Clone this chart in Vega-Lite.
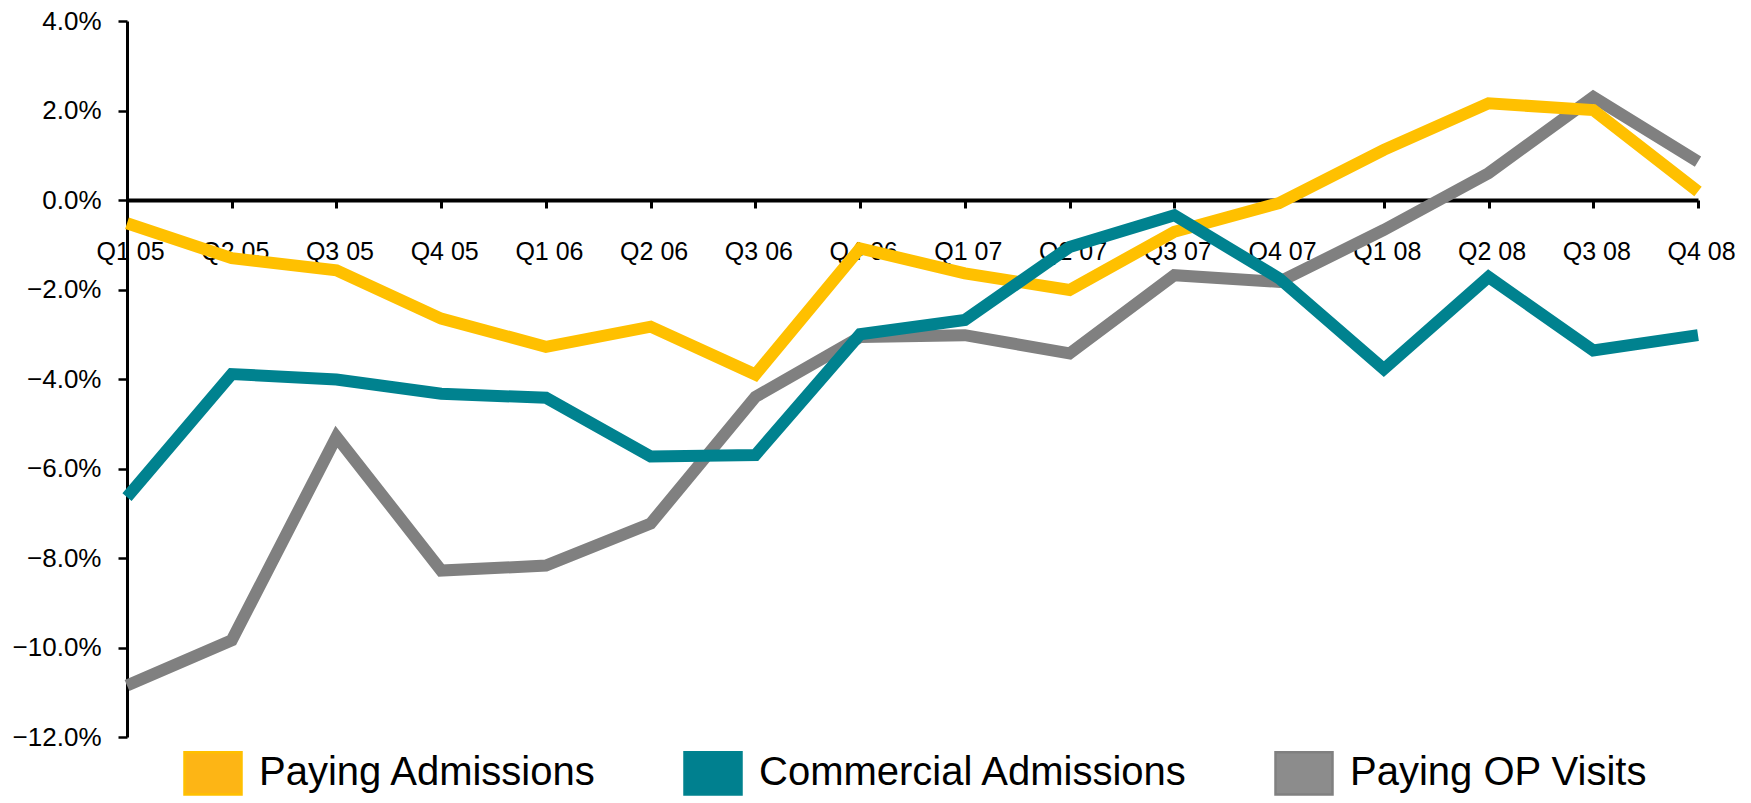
{
  "$schema": "https://vega.github.io/schema/vega-lite/v6.json",
  "width": 1571,
  "height": 716,
  "autosize": {"type": "none"},
  "padding": {"left": 127, "top": 21, "right": 53, "bottom": 66},
  "background": "white",
  "config": {
    "view": {"stroke": null},
    "font": "Liberation Sans"
  },
  "data": {
    "values": [
      {"q": "Q1 05", "series": "Paying Admissions", "v": -0.52},
      {"q": "Q2 05", "series": "Paying Admissions", "v": -1.30},
      {"q": "Q3 05", "series": "Paying Admissions", "v": -1.57},
      {"q": "Q4 05", "series": "Paying Admissions", "v": -2.65},
      {"q": "Q1 06", "series": "Paying Admissions", "v": -3.28},
      {"q": "Q2 06", "series": "Paying Admissions", "v": -2.83},
      {"q": "Q3 06", "series": "Paying Admissions", "v": -3.90},
      {"q": "Q4 06", "series": "Paying Admissions", "v": -1.08},
      {"q": "Q1 07", "series": "Paying Admissions", "v": -1.64},
      {"q": "Q2 07", "series": "Paying Admissions", "v": -2.01},
      {"q": "Q3 07", "series": "Paying Admissions", "v": -0.71},
      {"q": "Q4 07", "series": "Paying Admissions", "v": -0.07},
      {"q": "Q1 08", "series": "Paying Admissions", "v": 1.12},
      {"q": "Q2 08", "series": "Paying Admissions", "v": 2.16},
      {"q": "Q3 08", "series": "Paying Admissions", "v": 2.01},
      {"q": "Q4 08", "series": "Paying Admissions", "v": 0.19},
      {"q": "Q1 05", "series": "Commercial Admissions", "v": -6.64},
      {"q": "Q2 05", "series": "Commercial Admissions", "v": -3.89},
      {"q": "Q3 05", "series": "Commercial Admissions", "v": -4.01},
      {"q": "Q4 05", "series": "Commercial Admissions", "v": -4.33},
      {"q": "Q1 06", "series": "Commercial Admissions", "v": -4.42},
      {"q": "Q2 06", "series": "Commercial Admissions", "v": -5.73},
      {"q": "Q3 06", "series": "Commercial Admissions", "v": -5.70},
      {"q": "Q4 06", "series": "Commercial Admissions", "v": -3.00},
      {"q": "Q1 07", "series": "Commercial Admissions", "v": -2.68},
      {"q": "Q2 07", "series": "Commercial Admissions", "v": -1.05},
      {"q": "Q3 07", "series": "Commercial Admissions", "v": -0.34},
      {"q": "Q4 07", "series": "Commercial Admissions", "v": -1.75},
      {"q": "Q1 08", "series": "Commercial Admissions", "v": -3.78},
      {"q": "Q2 08", "series": "Commercial Admissions", "v": -1.72},
      {"q": "Q3 08", "series": "Commercial Admissions", "v": -3.36},
      {"q": "Q4 08", "series": "Commercial Admissions", "v": -3.02},
      {"q": "Q1 05", "series": "Paying OP Visits", "v": -10.85},
      {"q": "Q2 05", "series": "Paying OP Visits", "v": -9.84},
      {"q": "Q3 05", "series": "Paying OP Visits", "v": -5.29},
      {"q": "Q4 05", "series": "Paying OP Visits", "v": -8.28},
      {"q": "Q1 06", "series": "Paying OP Visits", "v": -8.17},
      {"q": "Q2 06", "series": "Paying OP Visits", "v": -7.23},
      {"q": "Q3 06", "series": "Paying OP Visits", "v": -4.40},
      {"q": "Q4 06", "series": "Paying OP Visits", "v": -3.06},
      {"q": "Q1 07", "series": "Paying OP Visits", "v": -3.02},
      {"q": "Q2 07", "series": "Paying OP Visits", "v": -3.43},
      {"q": "Q3 07", "series": "Paying OP Visits", "v": -1.68},
      {"q": "Q4 07", "series": "Paying OP Visits", "v": -1.83},
      {"q": "Q1 08", "series": "Paying OP Visits", "v": -0.67},
      {"q": "Q2 08", "series": "Paying OP Visits", "v": 0.60},
      {"q": "Q3 08", "series": "Paying OP Visits", "v": 2.30},
      {"q": "Q4 08", "series": "Paying OP Visits", "v": 0.86}
    ]
  },
  "encoding": {
    "x": {
      "field": "q",
      "type": "ordinal",
      "sort": null,
      "scale": {"type": "point", "padding": 0},
      "axis": {
        "title": null,
        "orient": "bottom",
        "offset": -537,
        "labelAngle": 0,
        "labelFont": "Liberation Sans",
        "labelFontSize": 25,
        "labelColor": "black",
        "labelPadding": 31,
        "labelOffset": 3,
        "domainColor": "black",
        "domainWidth": 4,
        "tickColor": "black",
        "tickWidth": 3,
        "tickSize": 8,
        "grid": false,
        "zindex": 0
      }
    },
    "y": {
      "field": "v",
      "type": "quantitative",
      "scale": {"domain": [-12, 4], "nice": false, "zero": false},
      "axis": {
        "title": null,
        "values": [-12, -10, -8, -6, -4, -2, 0, 2, 4],
        "labelExpr": "format(datum.value, '.1f') + '%'",
        "labelFont": "Liberation Sans",
        "labelFontSize": 26,
        "labelColor": "black",
        "labelPadding": 17,
        "domainColor": "black",
        "domainWidth": 3,
        "tickColor": "black",
        "tickWidth": 2.5,
        "tickSize": 9,
        "grid": false
      }
    }
  },
  "layer": [
    {
      "mark": {"type": "point", "filled": true, "opacity": 0, "size": 1},
      "encoding": {
        "fill": {
          "field": "series",
          "type": "nominal",
          "scale": {
            "domain": ["Paying Admissions", "Commercial Admissions", "Paying OP Visits"],
            "range": ["#FDB515", "#00808F", "#8C8C8C"]
          },
          "legend": {
            "title": null,
            "orient": "none",
            "direction": "horizontal",
            "columns": 3,
            "legendX": 56,
            "legendY": 722,
            "padding": 0,
            "columnPadding": 82,
            "symbolType": "M-1,-0.74H1V0.74H-1Z",
            "symbolSize": 3249,
            "symbolStrokeColor": "black",
            "symbolStrokeWidth": 2.5,
            "symbolOpacity": 1,
            "labelFont": "Liberation Sans",
            "labelFontSize": 40,
            "labelColor": "black",
            "labelOffset": 16,
            "labelLimit": 1000
          }
        }
      }
    },
    {
      "transform": [{"filter": "datum.series === 'Paying OP Visits'"}],
      "mark": {"type": "line", "strokeWidth": 12, "strokeJoin": "miter", "strokeCap": "butt"},
      "encoding": {
        "color": {
          "field": "series",
          "type": "nominal",
          "scale": {
            "domain": ["Paying Admissions", "Commercial Admissions", "Paying OP Visits"],
            "range": ["#FFC000", "#00828F", "#808080"]
          },
          "legend": null
        }
      }
    },
    {
      "transform": [{"filter": "datum.series === 'Paying Admissions'"}],
      "mark": {"type": "line", "strokeWidth": 12, "strokeJoin": "miter", "strokeCap": "butt"},
      "encoding": {
        "color": {"field": "series", "type": "nominal", "legend": null}
      }
    },
    {
      "transform": [{"filter": "datum.series === 'Commercial Admissions'"}],
      "mark": {"type": "line", "strokeWidth": 12, "strokeJoin": "miter", "strokeCap": "butt"},
      "encoding": {
        "color": {"field": "series", "type": "nominal", "legend": null}
      }
    }
  ]
}
